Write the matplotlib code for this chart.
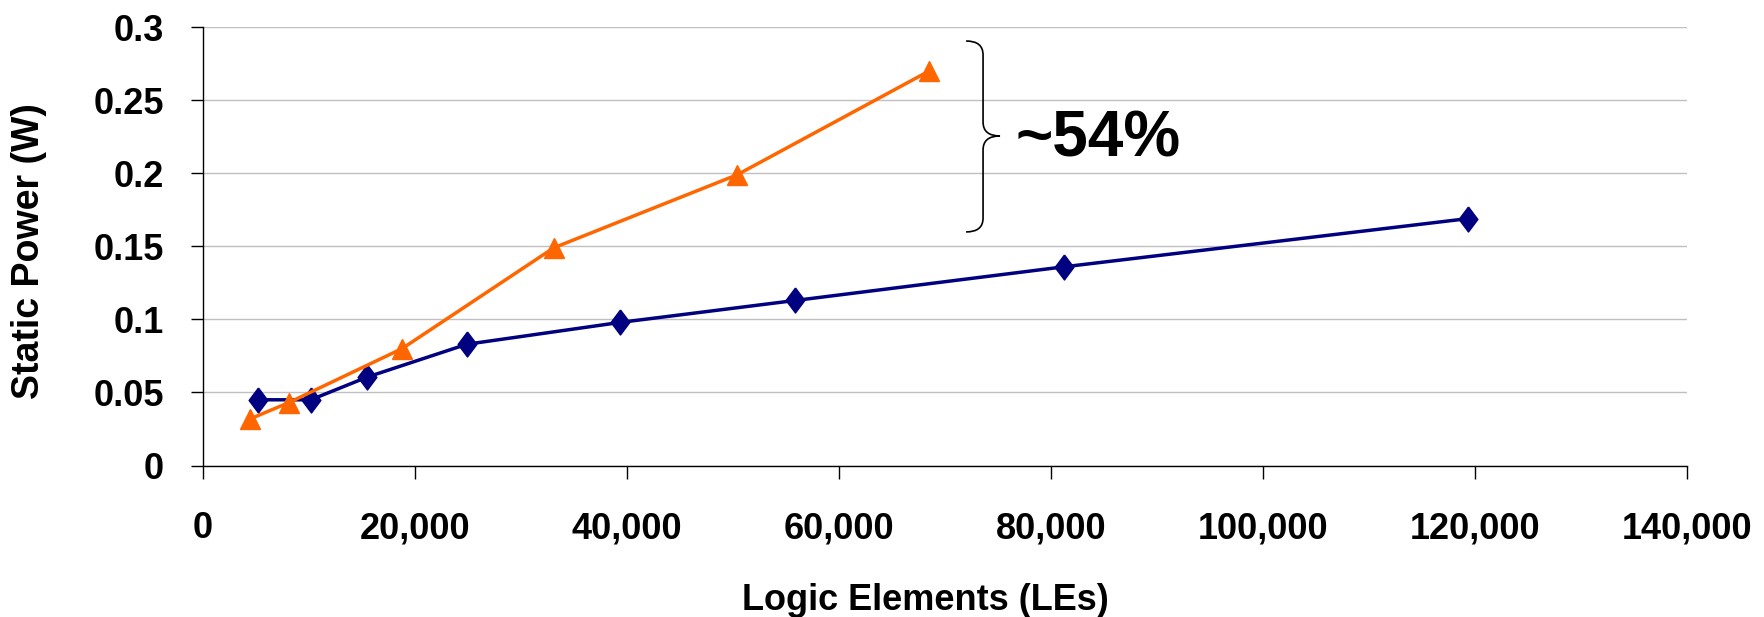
import numpy as np
import matplotlib
matplotlib.use("Agg")
import matplotlib.pyplot as plt
from matplotlib.path import Path
from matplotlib.patches import PathPatch
from matplotlib.ticker import FuncFormatter

# data
blue_x = [5200, 10200, 15500, 24900, 39400, 55900, 81200, 119300]
blue_y = [0.045, 0.045, 0.0605, 0.083, 0.098, 0.113, 0.136, 0.169]
orange_x = [4500, 8100, 18800, 33100, 50400, 68500]
orange_y = [0.032, 0.043, 0.080, 0.149, 0.199, 0.270]
x_ticks = np.arange(0, 140001, 20000)
y_ticks = [0, 0.05, 0.1, 0.15, 0.2, 0.25, 0.3]
note = "~54%"

plt.rcParams['font.family'] = ['Liberation Sans', 'DejaVu Sans']
plt.rcParams['font.weight'] = 'bold'

fig = plt.figure(figsize=(17.64, 6.17), dpi=100)
ax = fig.add_axes([0.1149, 0.2455, 0.8415, 0.7103])

diamond = [(0, 1), (0.75, 0), (0, -1), (-0.75, 0), (0, 1)]
ax.plot(blue_x, blue_y, color='#000080', lw=2.5, marker=diamond,
        markersize=18, markerfacecolor='#000080', markeredgecolor='#000080', zorder=3)
ax.plot(orange_x, orange_y, color='#FF6600', lw=2.5, marker='^',
        markersize=15, markerfacecolor='#FF6600', markeredgecolor='#FF6600', zorder=3)

ax.set_xlim(0, 140000)
ax.set_ylim(0, 0.3)
ax.set_xticks(x_ticks)
ax.set_yticks(y_ticks)
ax.xaxis.set_major_formatter(FuncFormatter(lambda v, p: f"{int(v):,}"))
ax.yaxis.set_major_formatter(FuncFormatter(lambda v, p: f"{v:g}"))
ax.grid(axis='y', color='#C0C0C0', lw=1.0)
ax.set_axisbelow(True)
for s in ['top', 'right']:
    ax.spines[s].set_visible(False)
for s in ['left', 'bottom']:
    ax.spines[s].set_linewidth(1.0)
    ax.spines[s].set_color('black')
ax.tick_params(axis='x', direction='out', length=9, width=1, pad=24, labelsize=26)
ax.tick_params(axis='y', direction='out', length=9, width=1, pad=19, labelsize=26)

ax.set_xlabel("Logic Elements (LEs)", fontsize=26, fontweight='bold')
ax.set_ylabel("Static Power (W)", fontsize=27, fontweight='bold')
ax.xaxis.set_label_coords(0.487, -0.268)
ax.yaxis.set_label_coords(-0.105, 0.49)

# curly brace next to the gap
bx0, bx1, bx2 = 72000, 73600, 75200
by_top, by_mid, by_bot = 0.2906, 0.2256, 0.1599
r = 0.0095
verts = [(bx0, by_top), (bx1, by_top), (bx1, by_top - r),
         (bx1, by_mid + r), (bx1, by_mid), (bx2, by_mid),
         (bx1, by_mid), (bx1, by_mid - r),
         (bx1, by_bot + r), (bx1, by_bot), (bx0, by_bot)]
codes = [Path.MOVETO, Path.CURVE3, Path.CURVE3,
         Path.LINETO, Path.CURVE3, Path.CURVE3,
         Path.CURVE3, Path.CURVE3,
         Path.LINETO, Path.CURVE3, Path.CURVE3]
ax.add_patch(PathPatch(Path(verts, codes), facecolor='none', edgecolor='black', lw=1.2))

ax.text(76700, 0.223, note, fontsize=46, fontweight='bold', ha='left', va='center')

fig.savefig("out.png", dpi=100)
